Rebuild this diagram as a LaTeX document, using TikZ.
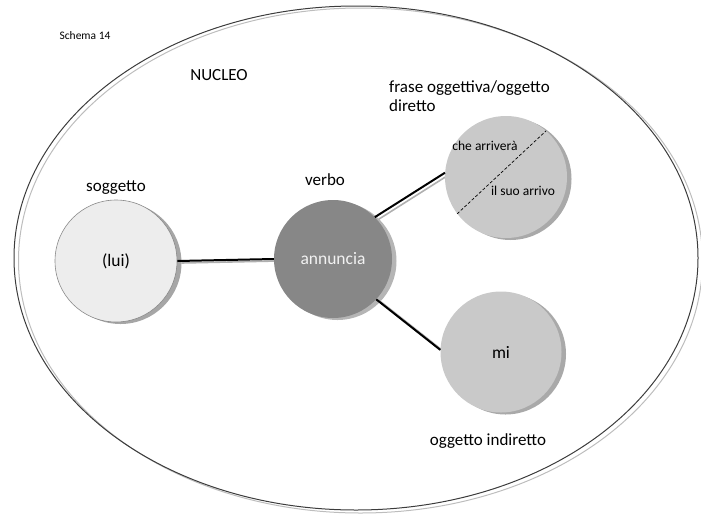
\documentclass[tikz,border=0pt]{standalone}
\usepackage{fontspec}
\setmainfont{Carlito}
\usetikzlibrary{shadows}
\pgfdeclarelayer{background}
\pgfsetlayers{background,main}

\definecolor{frameline}{HTML}{3C3C3C}
\definecolor{frameshade}{HTML}{BDBDBD}
\definecolor{subjfill}{HTML}{EDEDED}
\definecolor{subjrim}{HTML}{8A8A8A}
\definecolor{subjshade}{HTML}{A6A6A6}
\definecolor{verbfill}{HTML}{878787}
\definecolor{verbshade}{HTML}{B5B5B5}
\definecolor{objfill}{HTML}{C9C9C9}
\definecolor{objshade}{HTML}{A9A9A9}
\definecolor{linkshade}{HTML}{B0B0B0}

\begin{document}
\begin{tikzpicture}[x=1pt,y=-1pt,
  ball/.style={circle, inner sep=0pt, minimum size=#1},
  shade/.style={drop shadow={shadow xshift=4.5pt, shadow yshift=-2pt, fill=#1, opacity=1}},
  label/.style={font=\fontsize{17}{19}\selectfont, inner sep=0pt},
  inner/.style={font=\fontsize{17.5}{20}\selectfont, inner sep=0pt},
  small/.style={font=\fontsize{13.5}{16}\selectfont, inner sep=0pt},
  link/.style={line width=2pt, black},
  linkshadow/.style={line width=1.6pt, linkshade}]
\useasboundingbox (0,0) rectangle (701,517);

% outer frame: the nucleus, with its offset shade
\draw[frameshade, line width=1pt] (360.5,260.5) ellipse [x radius=342, y radius=252.5];
\draw[frameline, line width=1pt] (356,258) ellipse [x radius=342, y radius=252];

% the four circles
\node[ball=122, fill=subjfill, draw=subjrim, line width=0.6pt, shade=subjshade] (lui) at (116,261) {};
\node[ball=118, fill=verbfill, shade=verbshade] (verbo) at (333,259) {};
\node[ball=122, fill=objfill, shade=objshade] (ogg) at (506,177) {};
\node[ball=121, fill=objfill, shade=objshade] (mi) at (501,352) {};

% connectors with their shades
\begin{pgfonlayer}{background}
  \draw[linkshadow] ([shift={(4,2)}]lui.east) -- ([shift={(4,2)}]verbo.west);
  \draw[linkshadow] ([shift={(4,2)}]verbo.45) -- ([shift={(4,2)}]ogg.176);
  \draw[linkshadow] ([shift={(4,2)}]verbo.-43) -- ([shift={(4,2)}]mi.178);
\end{pgfonlayer}
\draw[link] (lui.east) -- (verbo.west);
\draw[link] (verbo.45) -- (ogg.176);
\draw[link] (verbo.-43) -- (mi.178);

% split of the object clause
\draw[black, line width=0.7pt, dash pattern=on 3pt off 2pt] (ogg.217) -- (ogg.49);

% texts inside the circles
\node[inner] (luitext) at (lui.center) {(lui)};
\node[inner, text=white!95!black] (verbtext) at (verbo.center) {annuncia};
\node[inner] (mitext) at (mi.center) {mi};
\node[small] (chetext) at (485,146) {che arriverà};
\node[small] (arrtext) at (523,191) {il suo arrivo};

% labels
\node[font=\fontsize{11.5}{13}\selectfont, inner sep=0pt] (schema) at (85,36) {Schema 14};
\node[label] (nucleo) at (219,75) {NUCLEO};
\node[label] (sogg) at (116,188) {soggetto};
\node[label] (verblabel) at (325,180) {verbo};
\node[label, anchor=west, align=left] (ogglabel) at (389,96) {frase oggettiva/oggetto\\diretto};
\node[label] (milabel) at (488,441) {oggetto indiretto};
\end{tikzpicture}
\end{document}
